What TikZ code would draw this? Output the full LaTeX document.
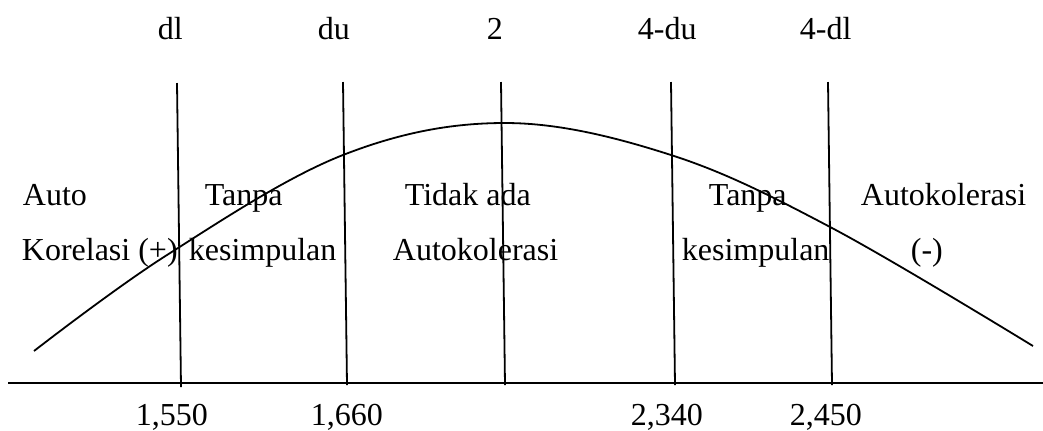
\documentclass[tikz,border=0pt]{standalone}
\usepackage{fontspec}
\setmainfont{Liberation Serif}
\begin{document}
\begin{tikzpicture}[x=0.5pt, y=-0.5pt, line width=0.9pt]
			\tikzset{teks/.style={anchor=base west, inner sep=0pt, font=\fontsize{16}{19}\selectfont}}
			\useasboundingbox (0,0) rectangle (1043,430);
			
			% label atas
			\node[teks] (dl) at (157,39) {dl};
			\node[teks] (du) at (317,39) {du};
			\node[teks] (dua) at (486,39) {2};
			\node[teks] (edu) at (637,39) {4-du};
			\node[teks] (edl) at (799,39) {4-dl};
			
			% daerah keputusan
			\node[teks] (autoA) at (22,205) {Auto};
			\node[teks] (autoB) at (21,260) {Korelasi (+)};
			\node[teks] (tanpaA) at (204,205) {Tanpa};
			\node[teks] (tanpaB) at (188,260) {kesimpulan};
			\node[teks] (tidakA) at (404,205) {Tidak ada};
			\node[teks] (tidakB) at (392,260) {Autokolerasi};
			\node[teks] (tanpaC) at (708,205) {Tanpa};
			\node[teks] (tanpaD) at (681,260) {kesimpulan};
			\node[teks] (negA) at (860,205) {Autokolerasi};
			\node[teks] (negB) at (910,260) {(-)};
			
			% nilai kritis
			\node[teks] (nA) at (135,425) {1,550};
			\node[teks] (nB) at (310,425) {1,660};
			\node[teks] (nC) at (630,425) {2,340};
			\node[teks] (nD) at (789,425) {2,450};
			
			% garis batas
			\coordinate (dlT) at (177,83);  \coordinate (dlB) at (181,387);
			\coordinate (duT) at (343,82);  \coordinate (duB) at (347,385);
			\coordinate (duaT) at (501,82); \coordinate (duaB) at (505,385);
			\coordinate (eduT) at (671,82); \coordinate (eduB) at (675,385);
			\coordinate (edlT) at (828,82); \coordinate (edlB) at (832,385);
			\draw (dlT) -- (dlB);
			\draw (duT) -- (duB);
			\draw (duaT) -- (duaB);
			\draw (eduT) -- (eduB);
			\draw (edlT) -- (edlB);
			
			% sumbu
			\coordinate (kiri) at (8,383);
			\coordinate (kanan) at (1043,383);
			\draw[line width=1.2pt] (kiri) -- (kanan);
			
			% kurva
			\draw plot[smooth, tension=0.6] coordinates {(34,351) (167,255) (343,155) (505,123) (671,155) (832,228) (1033,346)};
		\end{tikzpicture}
\end{document}
